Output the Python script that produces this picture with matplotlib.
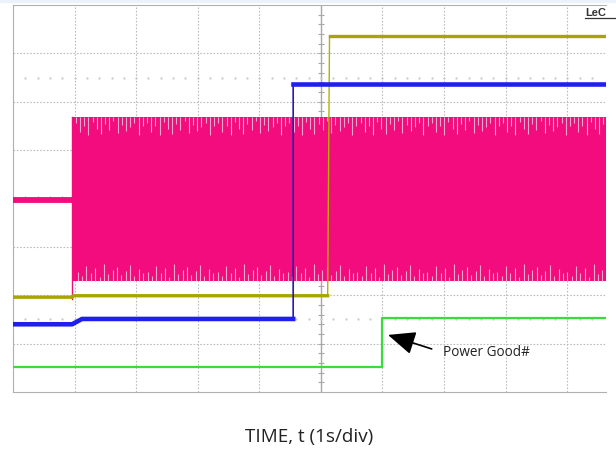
import numpy as np
import matplotlib.pyplot as plt
from matplotlib.patches import Rectangle
from matplotlib.lines import Line2D

# scope traces, x in divisions (1s/div), y in divisions from bottom of screen
pink_idle_t = [0.0, 0.96]
pink_idle_v = [3.97, 3.97]
pink_band_t = [0.96, 9.63]
pink_band_top = 5.68
pink_band_bot = 2.29

olive_t = [0.0, 0.96, 0.98, 5.11, 5.14, 9.63]
olive_v = [1.96, 1.96, 1.99, 1.99, 7.36, 7.36]

blue_t = [0.0, 0.96, 1.12, 4.55, 4.55, 9.63]
blue_v = [1.40, 1.40, 1.51, 1.51, 6.36, 6.36]

green_t = [0.0, 5.99, 5.99, 9.63]
green_v = [0.52, 0.52, 1.53, 1.53]

# ripple spikes on the switching node (depth in div)
spike_top = [0.12, 0.30, 0.18, 0.36, 0.10, 0.24, 0.34, 0.14, 0.26, 0.08, 0.32, 0.16, 0.28, 0.20, 0.12, 0.36, 0.18]
spike_bot = [0.20, 0.10, 0.32, 0.16, 0.28, 0.08, 0.36, 0.14, 0.24, 0.30, 0.12, 0.22, 0.34, 0.10, 0.26, 0.18]

fig = plt.figure(figsize=(6.16, 4.52), dpi=100)
plt.rcParams["font.family"] = ["Open Sans", "DejaVu Sans"]
fig.patches.append(Rectangle((0, 0.993), 1, 0.007, transform=fig.transFigure, color='#EDF2FA', zorder=0))

ax = fig.add_axes([13/616, 59/452, 593/616, 387/452])
ax.set_xlim(0, 9.63)
ax.set_ylim(0, 8)
ax.set_xticks([]); ax.set_yticks([])
for s in ['left', 'bottom', 'top']:
    ax.spines[s].set_color('#B0B0B0')
ax.spines['right'].set_visible(False)

# graticule
gcol = '#BDBDBD'
for x in range(1, 10):
    if x == 5:
        continue
    ax.axvline(x, color=gcol, lw=0.8, ls=(0, (1.5, 1.5)), zorder=1)
for y in range(1, 8):
    if y == 4:
        continue
    ax.axhline(y, color=gcol, lw=0.8, ls=(0, (1.5, 1.5)), zorder=1)
ax.axvline(5, color='#A8A8A8', lw=1.0, zorder=1)
ax.axhline(4, color='#A8A8A8', lw=1.0, zorder=1)
ticks = np.arange(0.2, 8, 0.2)
ax.hlines(ticks, 4.95, 5.05, color='#A8A8A8', lw=0.8, zorder=1)
tx = np.arange(0.2, 9.6, 0.2)
ax.vlines(tx, 3.95, 4.05, color='#A8A8A8', lw=0.8, zorder=1)
for yd in [6.5, 1.5]:
    ax.plot(tx, [yd]*len(tx), ls='none', marker='.', ms=1.2, color='#C8C8C8', zorder=1)

# pink switching node
pink = '#F20C7D'
ax.plot(pink_idle_t, pink_idle_v, color=pink, lw=4.2, solid_capstyle='butt', zorder=3)
ax.plot([0.96, 0.96], [1.92, pink_band_top], color=pink, lw=1.0, zorder=3)
ax.fill_between(pink_band_t, pink_band_bot, pink_band_top, color=pink, lw=0, zorder=3)
xs = np.arange(1.02, 9.6, 0.068)
ax.vlines(xs, [pink_band_top - spike_top[i % len(spike_top)] for i in range(len(xs))], pink_band_top,
          color='#F7A6CC', lw=0.8, zorder=4)
xs2 = np.arange(1.05, 9.6, 0.071)
ax.vlines(xs2, pink_band_bot, [pink_band_bot + spike_bot[i % len(spike_bot)] for i in range(len(xs2))],
          color='#F7A6CC', lw=0.8, zorder=4)

# olive
ax.plot(olive_t, olive_v, color='#B4B000', lw=1.0, zorder=5)
ax.plot(olive_t[:4], olive_v[:4], color='#A8A400', lw=2.4, zorder=5)
ax.plot(olive_t[4:], olive_v[4:], color='#A8A400', lw=2.4, zorder=5)

# blue
ax.plot(blue_t, blue_v, color='#2A1AB0', lw=1.2, zorder=6)
ax.plot(blue_t[:4], blue_v[:4], color='#2020EE', lw=3.3, zorder=6)
ax.plot(blue_t[4:], blue_v[4:], color='#2020EE', lw=3.3, zorder=6)

# green
ax.plot(green_t, green_v, color='#3ADB3A', lw=1.6, zorder=6)

# annotation
ax.annotate('', xy=(6.09, 1.18), xytext=(6.80, 0.89),
            arrowprops=dict(arrowstyle='-|>,head_length=1.4,head_width=0.6', color='black',
                            lw=1.2, mutation_scale=12, shrinkA=0, shrinkB=0), zorder=8)
ax.text(6.98, 0.84, 'Power Good#', fontsize=9.8, color='#222222', ha='left', va='center', zorder=8)

# logo corner
fig.text(0.950, 0.972, 'LeC', fontsize=8, fontweight='bold', family='Liberation Sans',
         color='#333333', ha='left', va='center')
fig.add_artist(Line2D([0.950, 1.0], [0.958, 0.958], transform=fig.transFigure, color='#333333', lw=0.9))

fig.text(0.502, 0.033, 'TIME, t (1s/div)', fontsize=13.6, color='#222222', ha='center', va='center')

fig.savefig('out.png', dpi=100)
